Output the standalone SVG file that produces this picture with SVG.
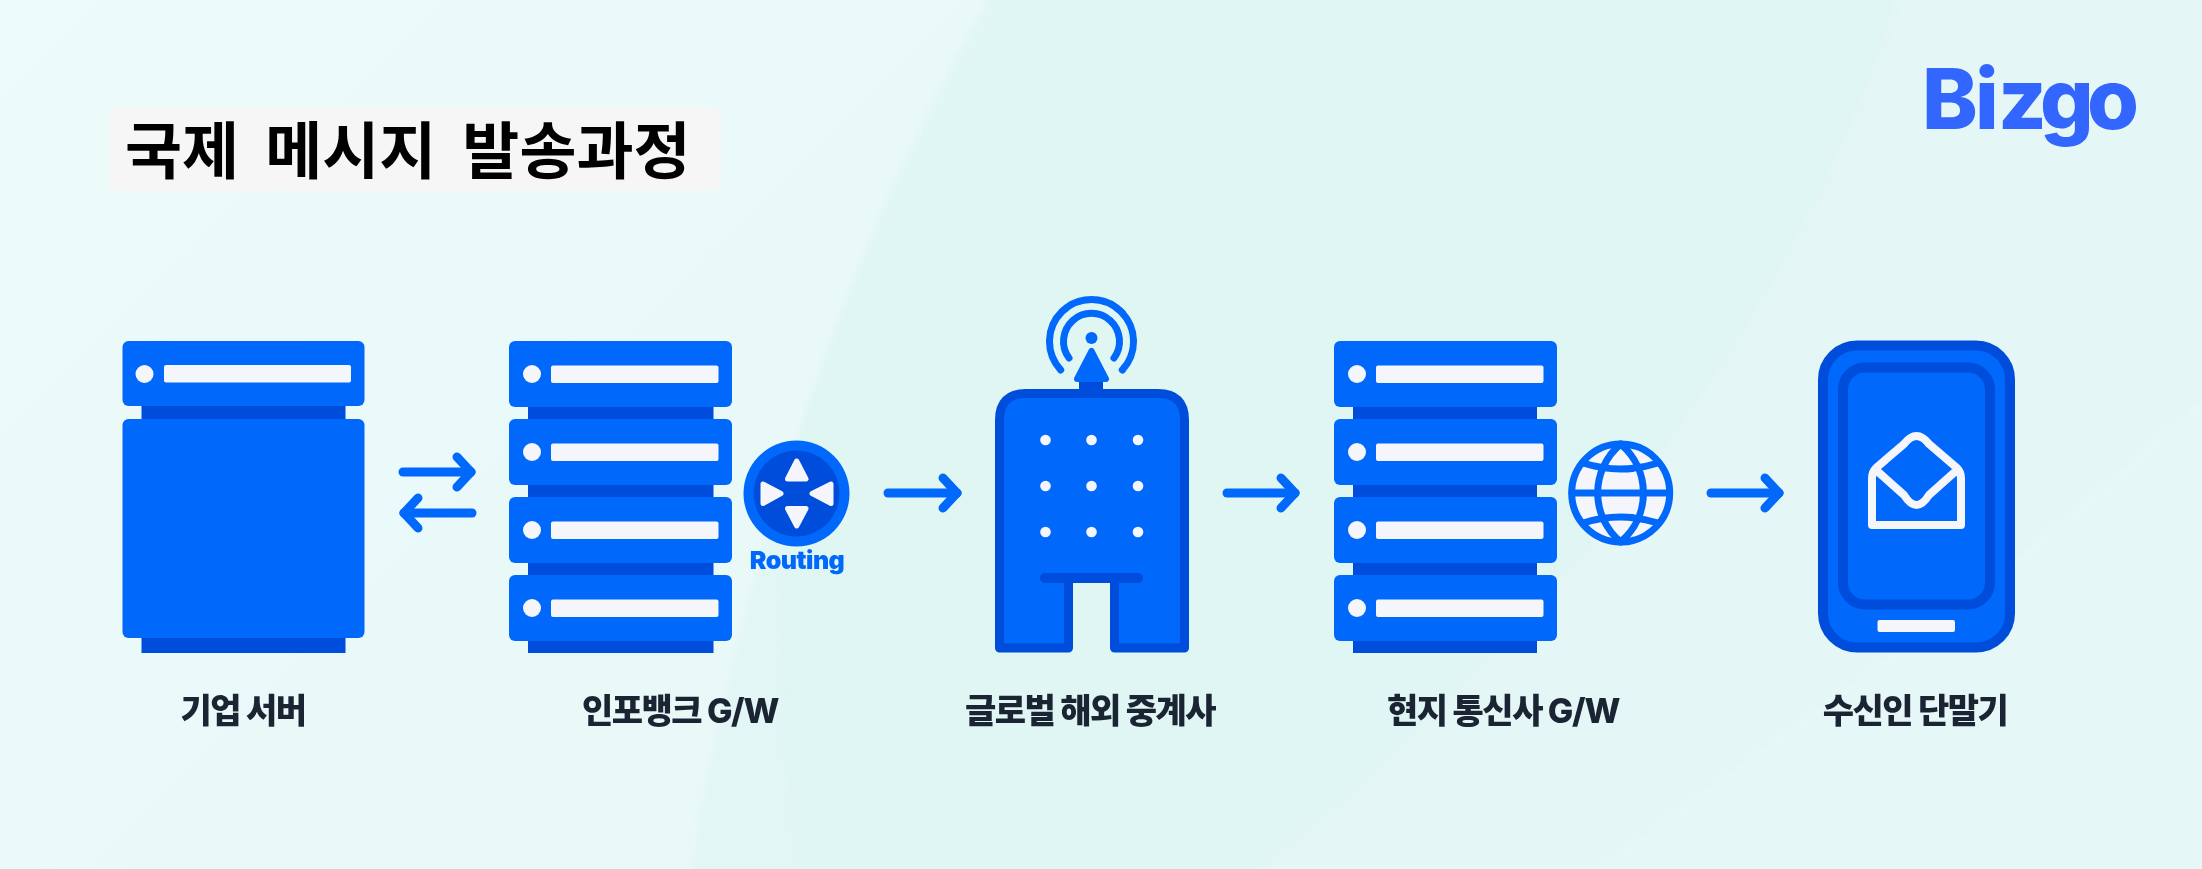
<svg xmlns="http://www.w3.org/2000/svg" xmlns:xlink="http://www.w3.org/1999/xlink" width="2202" height="869" viewBox="0 0 2202 869">
<style>
.b{fill:#0068fb}.d{fill:#004ddb}.w{fill:#f4f6fb}
.lab{font-family:Inter,"Noto Sans CJK KR",sans-serif;font-weight:800;font-size:34px;letter-spacing:-1.500px;fill:#1a2433;text-anchor:middle}
.st{fill:none;stroke:#0068fb;stroke-linecap:round;stroke-linejoin:round}
.conn{stroke:#0068fb;stroke-width:9;stroke-linecap:round;fill:none}
</style>
<defs>
<linearGradient id="bg" x1="0" y1="0" x2="1" y2="0.4"><stop offset="0" stop-color="#e9fafa"/><stop offset="0.5" stop-color="#dff6f3"/><stop offset="1" stop-color="#e1f6f4"/></linearGradient>
<filter id="soft" x="-5%" y="-5%" width="110%" height="110%"><feGaussianBlur stdDeviation="3"/></filter>
<marker id="chev" markerUnits="userSpaceOnUse" markerWidth="40" markerHeight="50" refX="24" refY="25" orient="auto" viewBox="0 0 40 50"><path d="M10 10L24 25L10 40" fill="none" stroke="#0068fb" stroke-width="9" stroke-linecap="round" stroke-linejoin="round"/></marker>
<g id="unit"><rect x="0" y="0" width="223" height="66" rx="6" class="b"/><circle cx="23" cy="33" r="9" class="w"/><rect x="42" y="24.500" width="167.500" height="17.500" rx="2" class="w"/></g>
</defs>
<g id="background">
<rect width="2202" height="869" fill="url(#bg)"/>
<g filter="url(#soft)">
<path d="M1000 -20C860 200 730 600 688 889H-20V-20Z" fill="#f1fcfb" opacity="0.55"/>
<path d="M1900 -20C1830 250 1600 600 1236 889H2222V-20Z" fill="#e8f8f8" opacity="0.5"/>
<path d="M1572 889C1800 720 2050 550 2222 380V889Z" fill="#ecfafa" opacity="0.4"/>
<path d="M1000 0C780 250 760 600 800 869H688C730 600 860 200 1000 0Z" fill="#e6f8f7" opacity="0.4"/>
</g>
</g>
<g id="title"><rect x="109" y="107" width="612" height="84" rx="8" fill="#f6f6f6"/><text x="125" y="174" font-family="'Noto Sans CJK KR',sans-serif" font-weight="700" font-size="62" word-spacing="12" fill="#000">국제 메시지 발송과정</text></g>
<g id="logo"><text y="129" font-family="Inter,sans-serif" font-weight="800" font-size="84" fill="#3366ff" x="1922 1975 1998 2040 2087">Bizgo</text></g>
<g id="connectors">
<line x1="403" y1="472" x2="471" y2="472" class="conn" marker-end="url(#chev)"/>
<line x1="472" y1="513" x2="404" y2="513" class="conn" marker-end="url(#chev)"/>
<line x1="888" y1="493" x2="957" y2="493" class="conn" marker-end="url(#chev)"/>
<line x1="1227" y1="493" x2="1295" y2="493" class="conn" marker-end="url(#chev)"/>
<line x1="1711" y1="493" x2="1779" y2="493" class="conn" marker-end="url(#chev)"/>
</g>
<g id="node-enterprise-server">
<rect x="141.500" y="400" width="204" height="253" class="d"/>
<rect x="122.500" y="341" width="242" height="65" rx="6" class="b"/><circle cx="144.500" cy="374" r="9" class="w"/><rect x="164" y="365" width="187" height="17.500" rx="2" class="w"/>
<rect x="122.500" y="419" width="242" height="219" rx="6" class="b"/>
<text x="243" y="723" class="lab">기업 서버</text>
</g>
<g id="node-infobank-gw">
<rect x="528" y="400" width="185.500" height="253" class="d"/>
<use xlink:href="#unit" x="509" y="341"/><use xlink:href="#unit" x="509" y="419"/><use xlink:href="#unit" x="509" y="497"/><use xlink:href="#unit" x="509" y="575"/>
<circle cx="796.500" cy="493.500" r="53" class="b"/><circle cx="796.500" cy="493.500" r="43" class="d"/>
<path d="M796.700 461L806 479H787.500Z M796.700 526L806 508.500H787.500Z M763 484V503.500L781 493.500Z M831 484V503.500L812 493.500Z" class="w" stroke="#f4f6fb" stroke-width="5" stroke-linejoin="round"/>
<text x="797" y="569" font-family="Inter,sans-serif" font-weight="900" font-size="25" letter-spacing="-0.500" fill="#0068fb" text-anchor="middle">Routing</text>
<text x="680" y="723" class="lab">인포뱅크 G/W</text>
</g>
<g id="node-global-relay">
<rect x="1079" y="381" width="24" height="12" class="d"/>
<path d="M999.500 648V420Q999.500 393.500 1026 393.500H1158Q1184.500 393.500 1184.500 420V648H1114.500V578H1068.500V648Z" class="b" stroke="#004ddb" stroke-width="9" stroke-linejoin="round"/>
<rect x="1040" y="573" width="103" height="10" rx="5" class="d"/>
<g class="w"><circle cx="1045.500" cy="440" r="5.300"/><circle cx="1091.500" cy="440" r="5.300"/><circle cx="1138" cy="440" r="5.300"/><circle cx="1045.500" cy="486" r="5.300"/><circle cx="1091.500" cy="486" r="5.300"/><circle cx="1138" cy="486" r="5.300"/><circle cx="1045.500" cy="532" r="5.300"/><circle cx="1091.500" cy="532" r="5.300"/><circle cx="1138" cy="532" r="5.300"/></g>
<path d="M1091.500 351L1106 379H1077Z" class="b" stroke="#0068fb" stroke-width="6" stroke-linejoin="round"/>
<circle cx="1091.500" cy="338" r="6" class="b"/>
<path d="M1060.700 370A42 42 0 1 1 1122.300 370" class="st" stroke-width="7"/>
<path d="M1069 358A28 28 0 1 1 1114 358" class="st" stroke-width="7"/>
<text x="1090" y="723" class="lab">글로벌 해외 중계사</text>
</g>
<g id="node-local-carrier-gw">
<rect x="1353" y="400" width="184" height="253" class="d"/>
<use xlink:href="#unit" x="1334" y="341"/><use xlink:href="#unit" x="1334" y="419"/><use xlink:href="#unit" x="1334" y="497"/><use xlink:href="#unit" x="1334" y="575"/>
<circle cx="1620.700" cy="493" r="49" class="w" stroke="#0068fb" stroke-width="7"/>
<path d="M1620.700 444C1590 470 1590 516 1620.700 542C1651 516 1651 470 1620.700 444Z" class="st" stroke-width="7"/>
<path d="M1572 493H1669M1583 463Q1620.700 475 1658 463M1583 523Q1620.700 511 1658 523" class="st" stroke-width="7"/>
<text x="1503" y="723" class="lab">현지 통신사 G/W</text>
</g>
<g id="node-recipient-device">
<rect x="1823" y="345.500" width="187" height="302" rx="34" class="b" stroke="#004ddb" stroke-width="10"/>
<rect x="1843" y="367.500" width="147" height="237" rx="22" class="b" stroke="#004ddb" stroke-width="10"/>
<rect x="1877.500" y="620" width="77.500" height="12" rx="2" class="w"/>
<path d="M1872 525H1961V478Q1961 472 1957 468L1929 444Q1916.500 428 1904 444L1876 468Q1872 472 1872 478Z M1876 470L1904 495Q1916.500 515 1929 495L1957 470" fill="none" stroke="#f4f6fb" stroke-width="8" stroke-linejoin="round" stroke-linecap="round"/>
<text x="1915" y="723" class="lab">수신인 단말기</text>
</g>
</svg>
